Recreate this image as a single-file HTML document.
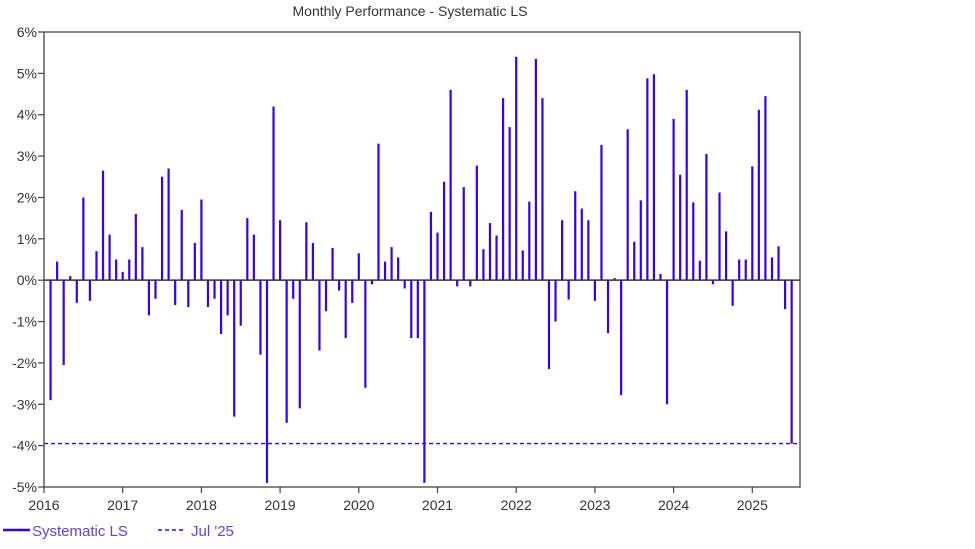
<!DOCTYPE html>
<html><head><meta charset="utf-8"><style>
body{margin:0;background:#fff;width:975px;height:544px;overflow:hidden}
svg text{font-family:"Liberation Sans",Arial,sans-serif}
</style></head><body>
<svg width="975" height="544" xmlns="http://www.w3.org/2000/svg">
<text x="410" y="16" font-size="14" fill="#333" text-anchor="middle">Monthly Performance - Systematic LS</text>
<g id="grid"></g>
<g id="bars"></g>
<g id="axes"></g>
<g>
<line x1="3" y1="530" x2="30" y2="530" stroke="#3300ff" stroke-width="2.5"/>
<text x="32" y="536" font-size="15" fill="#5b45e8">Systematic LS</text>
<line x1="158" y1="530" x2="184" y2="530" stroke="#3300ff" stroke-width="1.5" stroke-dasharray="4,3"/>
<text x="191" y="536" font-size="15" fill="#5b45e8">Jul '25</text>
</g>
</svg>
<script>
const returns = [
-2.9,0.45,-2.05,0.1,-0.55,2.0,-0.5,0.7,2.65,1.1,0.5,0.2,
0.5,1.6,0.8,-0.85,-0.45,2.5,2.7,-0.6,1.7,-0.65,0.9,1.95,
-0.65,-0.45,-1.3,-0.85,-3.3,-1.1,1.5,1.1,-1.8,-4.9,4.2,1.45,
-3.45,-0.45,-3.1,1.4,0.9,-1.7,-0.75,0.78,-0.25,-1.4,-0.55,0.65,
-2.6,-0.1,3.3,0.45,0.8,0.55,-0.2,-1.4,-1.4,-4.9,1.65,1.15,
2.38,4.6,-0.15,2.25,-0.15,2.77,0.75,1.38,1.08,4.4,3.7,5.4,
0.72,1.9,5.35,4.4,-2.15,-1.0,1.45,-0.47,2.15,1.73,1.45,-0.5,
3.27,-1.28,0.05,-2.78,3.65,0.93,1.93,4.88,4.98,0.15,-3.0,3.9,
2.55,4.6,1.88,0.47,3.05,-0.1,2.12,1.18,-0.62,0.5,0.5,2.75,
4.12,4.45,0.55,0.82,-0.7,-3.95];
const refValue = -3.95;
const yTicks = [6,5,4,3,2,1,0,-1,-2,-3,-4,-5];
const yearLabels = ["2016","2017","2018","2019","2020","2021","2022","2023","2024","2025"];
const L=44,R=800,T=32,B=487,yMax=6,yMin=-5,yearW=78.7;
const ys=v=>T+(yMax-v)/(yMax-yMin)*(B-T);
const xs=m=>L+m*yearW/12;
const NS="http://www.w3.org/2000/svg";
function mk(p,tag,at){const e=document.createElementNS(NS,tag);for(const k in at)e.setAttribute(k,at[k]);p.appendChild(e);return e;}
const bars=document.getElementById('bars'),axes=document.getElementById('axes');
returns.forEach((v,i)=>{const x=xs(i+1);
const b=mk(bars,'line',{x1:x,x2:x,y1:ys(0),y2:ys(v),stroke:'#3300ff','stroke-width':2.2});

});
const ref=mk(bars,'line',{x1:L,x2:R,y1:ys(refValue),y2:ys(refValue),stroke:'#3300ff','stroke-width':1.3,'stroke-dasharray':'4,3'});


const zero=mk(axes,'line',{x1:L,x2:R,y1:ys(0),y2:ys(0),stroke:'#333','stroke-width':1.5});


const frame=mk(axes,'rect',{x:L,y:T,width:R-L,height:B-T,fill:'none',stroke:'#444','stroke-width':1.3});


yTicks.forEach(v=>{const y=ys(v);
mk(axes,'line',{x1:L-6,x2:L,y1:y,y2:y,stroke:'#444','stroke-width':1.2});
const t=mk(axes,'text',{x:L-7,y:y+5,'font-size':14,fill:'#333','text-anchor':'end'});t.textContent=v+'%';

});
yearLabels.forEach((s,i)=>{const x=xs(i*12);
mk(axes,'line',{x1:x,x2:x,y1:B,y2:B+6,stroke:'#444','stroke-width':1.2});
const t=mk(axes,'text',{x:x,y:B+23,'font-size':14,fill:'#333','text-anchor':'middle'});t.textContent=s;

});
</script>
</body></html>
